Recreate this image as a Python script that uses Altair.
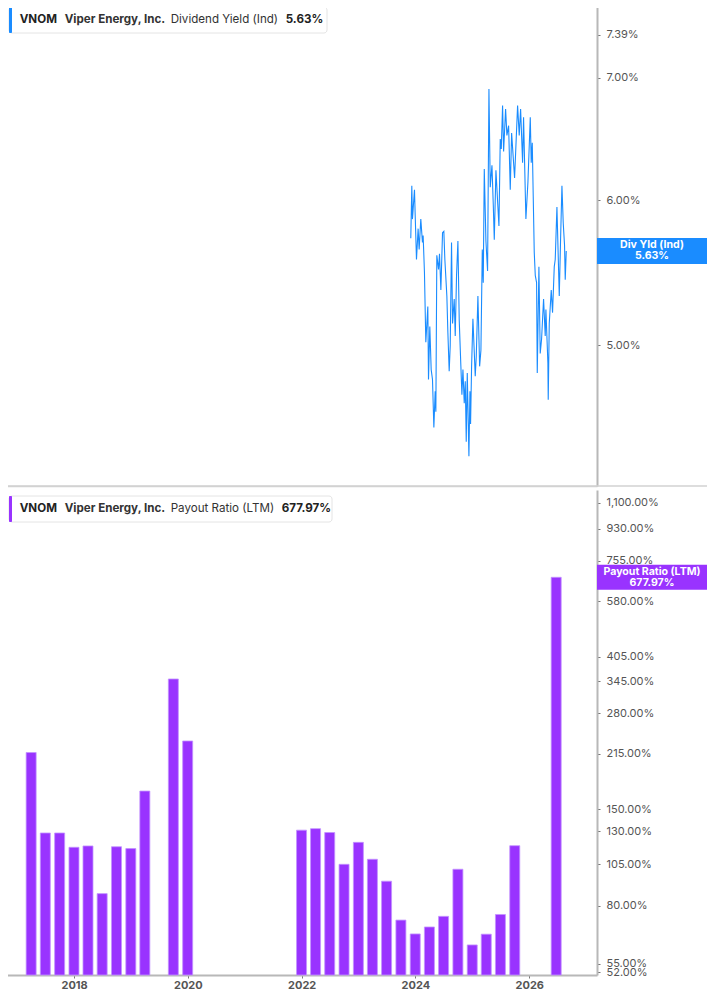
import math
import altair as alt
import pandas as pd

# ---------------- data ----------------
BAR_DATES = ["2017-03-31", "2017-06-30", "2017-09-30", "2017-12-31", "2018-03-31",
             "2018-06-30", "2018-09-30", "2018-12-31", "2019-03-31", "2019-09-30",
             "2019-12-31", "2021-12-31", "2022-03-31", "2022-06-30", "2022-09-30",
             "2022-12-31", "2023-03-31", "2023-06-30", "2023-09-30", "2023-12-31",
             "2024-03-31", "2024-06-30", "2024-09-30", "2024-12-31", "2025-03-31",
             "2025-06-30", "2025-09-30", "2026-06-23"]
BAR_VALUES = [217, 128.6, 128.6, 117.2, 118.2, 86.7, 117.6, 116.2, 168.9, 350,
              233.9, 131, 132.3, 129, 104.9, 121, 108.4, 94, 73, 66.7,
              69.8, 74.8, 101.6, 62.1, 66.6, 75.7, 118.4, 677.97]

LINE_YEARS = [2023.919, 2023.937, 2023.948, 2023.984, 2023.995, 2024.019, 2024.048, 2024.066, 2024.095, 2024.124,
              2024.136, 2024.159, 2024.183, 2024.218, 2024.230, 2024.253, 2024.277, 2024.300, 2024.324, 2024.347,
              2024.359, 2024.376, 2024.406, 2024.423, 2024.447, 2024.476, 2024.499, 2024.517, 2024.552, 2024.570,
              2024.593, 2024.611, 2024.634, 2024.652, 2024.681, 2024.699, 2024.722, 2024.746, 2024.769, 2024.798,
              2024.816, 2024.834, 2024.857, 2024.875, 2024.892, 2024.910, 2024.939, 2024.957, 2024.968, 2024.986,
              2025.009, 2025.050, 2025.068, 2025.097, 2025.127, 2025.150, 2025.174, 2025.191, 2025.209, 2025.238,
              2025.267, 2025.291, 2025.314, 2025.344, 2025.367, 2025.385, 2025.414, 2025.467, 2025.490, 2025.508,
              2025.531, 2025.549, 2025.584, 2025.607, 2025.637, 2025.666, 2025.690, 2025.742, 2025.795, 2025.824,
              2025.848, 2025.883, 2025.900, 2025.941, 2025.977, 2026.018, 2026.035, 2026.053, 2026.070, 2026.088,
              2026.106, 2026.129, 2026.141, 2026.170, 2026.193, 2026.217, 2026.252, 2026.281, 2026.293, 2026.328,
              2026.334, 2026.352, 2026.387, 2026.410, 2026.440, 2026.457, 2026.487, 2026.528, 2026.551, 2026.575,
              2026.598, 2026.621, 2026.633, 2026.651]
LINE_VALUES = [5.72, 6.11, 5.86, 6.08, 5.91, 5.57, 5.79, 5.64, 5.86, 5.69,
               5.74, 5.48, 5.02, 5.25, 4.79, 5.12, 4.85, 4.79, 4.51, 4.72,
               4.60, 5.60, 5.50, 5.61, 5.36, 5.76, 5.77, 5.57, 5.32, 5.08,
               4.84, 5.00, 5.69, 5.14, 5.30, 5.06, 5.46, 5.70, 5.16, 4.87,
               4.70, 4.85, 4.65, 4.78, 4.43, 4.83, 4.35, 4.72, 4.53, 4.87,
               5.17, 4.81, 4.93, 5.32, 4.87, 4.97, 5.64, 5.41, 6.24, 5.70,
               5.49, 6.90, 6.10, 6.27, 5.97, 5.71, 6.23, 5.81, 6.48, 6.40,
               6.76, 6.38, 6.73, 6.51, 6.59, 6.08, 6.53, 6.17, 6.76, 6.51,
               6.73, 6.29, 6.66, 5.86, 6.14, 6.66, 6.29, 6.45, 6.03, 5.62,
               5.46, 5.41, 4.83, 5.52, 4.95, 5.04, 5.30, 5.06, 5.23, 4.89,
               4.67, 5.14, 5.36, 5.21, 5.52, 5.57, 5.95, 5.32, 5.71, 6.11,
               5.83, 5.67, 5.43, 5.63]

YIELD_TICKS = [5.0, 6.0, 7.0, 7.39]
PAYOUT_TICKS = [52, 55, 80, 105, 130, 150, 215, 280, 345, 405, 580, 755, 930, 1100]
YEAR_TICKS = [2018, 2020, 2022, 2024, 2026]

LAST_YIELD = 5.63
LAST_PAYOUT = 677.97
YIELD_DOMAIN = [4.19, 7.65]
PAYOUT_DOMAIN = [51.08, 1196]

BLUE = "#1a8cff"
PURPLE = "#9933ff"
FONT = "Inter"


def frac_year(y):
    yr = int(y)
    start = pd.Timestamp(yr, 1, 1)
    end = pd.Timestamp(yr + 1, 1, 1)
    return (start + (end - start) * (y - yr)).strftime("%Y-%m-%dT%H:%M:%S")


line_df = pd.DataFrame({"date": [frac_year(y) for y in LINE_YEARS], "value": LINE_VALUES})
bar_df = pd.DataFrame({"date": [d + "T00:00:00" for d in BAR_DATES], "value": BAR_VALUES})
one = pd.DataFrame({"k": [0]})

W = 590
H_TOP = 479
H_BOT = 485
BADGE_W = 110

x_scale = alt.Scale(domain=[alt.DateTime(year=2016, month=10, date=27),
                            alt.DateTime(year=2027, month=3, date=12)], padding=0)
year_vals = [alt.DateTime(year=y, month=1, date=1) for y in YEAR_TICKS]

y_axis_common = dict(orient="right", title=None, grid=False,
                     domainColor="#b8b8b8", domainWidth=2,
                     tickColor="#777777", tickSize=3, tickWidth=1,
                     labelColor="#555555", labelFont=FONT, labelFontSize=11,
                     labelPadding=6, labelOverlap=False, labelBound=False,
                     labelExpr="format(datum.value, ',.2f') + '%'")

# ---------------- top panel ----------------
line = alt.Chart(line_df).mark_line(color=BLUE, strokeWidth=1.1).encode(
    x=alt.X("date:T", scale=x_scale,
            axis=alt.Axis(labels=False, ticks=False, grid=False, title=None,
                          domainColor="#d2d2d2", domainWidth=1.5, values=year_vals)),
    y=alt.Y("value:Q", scale=alt.Scale(type="log", domain=YIELD_DOMAIN, nice=False, zero=False),
            axis=alt.Axis(values=YIELD_TICKS, **y_axis_common)),
)


def legend_layers(color, label, value, box_right, top, value_x):
    box = alt.Chart(one).mark_rect(fill="white", stroke="#e4e4e4", strokeWidth=1, cornerRadius=3).encode(
        x=alt.value(2), x2=alt.value(box_right), y=alt.value(top), y2=alt.value(top + 26))
    bar = alt.Chart(one).mark_rect(fill=color, cornerRadius=1).encode(
        x=alt.value(2), x2=alt.value(5), y=alt.value(top), y2=alt.value(top + 26))
    parts = [
        ("VNOM", 12.7, "bold", "#222222"),
        ("Viper Energy, Inc.", 57.7, "bold", "#333333"),
        (label, 163.7, "normal", "#333333"),
        (value, value_x, "bold", "#222222"),
    ]
    texts = []
    for txt, xpos, weight, col in parts:
        texts.append(alt.Chart(one).mark_text(text=txt, align="left", baseline="middle",
                                               font=FONT, fontSize=11.6, fontWeight=weight,
                                               color=col).encode(
            x=alt.value(xpos), y=alt.value(top + 13)))
    return [box, bar] + texts


def badge_layers(color, title, value, domain, height, half_px):
    # badge edges expressed in data units of the log scale (half_px pixels above/below the value)
    k = math.log(domain[1] / domain[0]) / height * half_px
    hi, lo = value * math.exp(k), value / math.exp(k)
    cx = W + BADGE_W / 2
    badge = alt.Chart(one).mark_rect(fill=color).encode(
        x=alt.value(W), x2=alt.value(W + BADGE_W), y=alt.datum(hi), y2=alt.datum(lo))
    t1 = alt.Chart(one).mark_text(text=title, align="center", baseline="middle", dy=-5.5,
                                  font=FONT, fontSize=10.6, fontWeight="bold", color="white").encode(
        x=alt.value(cx), y=alt.datum(value))
    t2 = alt.Chart(one).mark_text(text=format(value, ",.2f") + "%", align="center",
                                  baseline="middle", dy=5.5,
                                  font=FONT, fontSize=10.6, fontWeight="bold", color="white").encode(
        x=alt.value(cx), y=alt.datum(value))
    return [badge, t1, t2]


divider = alt.Chart(one).mark_rule(color="#d2d2d2", strokeWidth=1.5).encode(
    x=alt.value(0), x2=alt.value(W + BADGE_W), y=alt.value(H_TOP))

top = alt.layer(
    line, divider,
    *legend_layers(BLUE, "Dividend Yield (Ind)", "5.63%", 320, 0, 278.7),
    *badge_layers(BLUE, "Div Yld (Ind)", LAST_YIELD, YIELD_DOMAIN, H_TOP, 13),
).properties(width=W, height=H_TOP)

# ---------------- bottom panel ----------------
bars = alt.Chart(bar_df).mark_bar(width=10, fill=PURPLE, stroke="#c393ff", strokeWidth=0.8).encode(
    x=alt.X("date:T", scale=x_scale,
            axis=alt.Axis(values=year_vals, format="%Y", title=None, grid=False,
                          domainColor="#b8b8b8", domainWidth=2,
                          tickColor="#777777", tickSize=3, tickWidth=1,
                          labelColor="#555555", labelFont=FONT, labelFontSize=11,
                          labelFontWeight="bold", labelPadding=1)),
    y=alt.Y("value:Q", scale=alt.Scale(type="log", domain=PAYOUT_DOMAIN, nice=False, zero=False, clamp=True),
            axis=alt.Axis(values=PAYOUT_TICKS, **y_axis_common)),
    y2=alt.Y2(datum=PAYOUT_DOMAIN[0]),
)

bottom = alt.layer(
    bars,
    *legend_layers(PURPLE, "Payout Ratio (LTM)", "677.97%", 325, 6, 274.7),
    *badge_layers(PURPLE, "Payout Ratio (LTM)", LAST_PAYOUT, PAYOUT_DOMAIN, H_BOT, 12.5),
).properties(width=W, height=H_BOT)

chart = alt.vconcat(top, bottom, spacing=3).properties(
    padding={"left": -2, "top": -2, "right": 0, "bottom": 0}
).configure(font=FONT).configure_view(strokeWidth=0, stroke="transparent")

chart.save("out.html", embed_options={"renderer": "svg", "actions": False})
